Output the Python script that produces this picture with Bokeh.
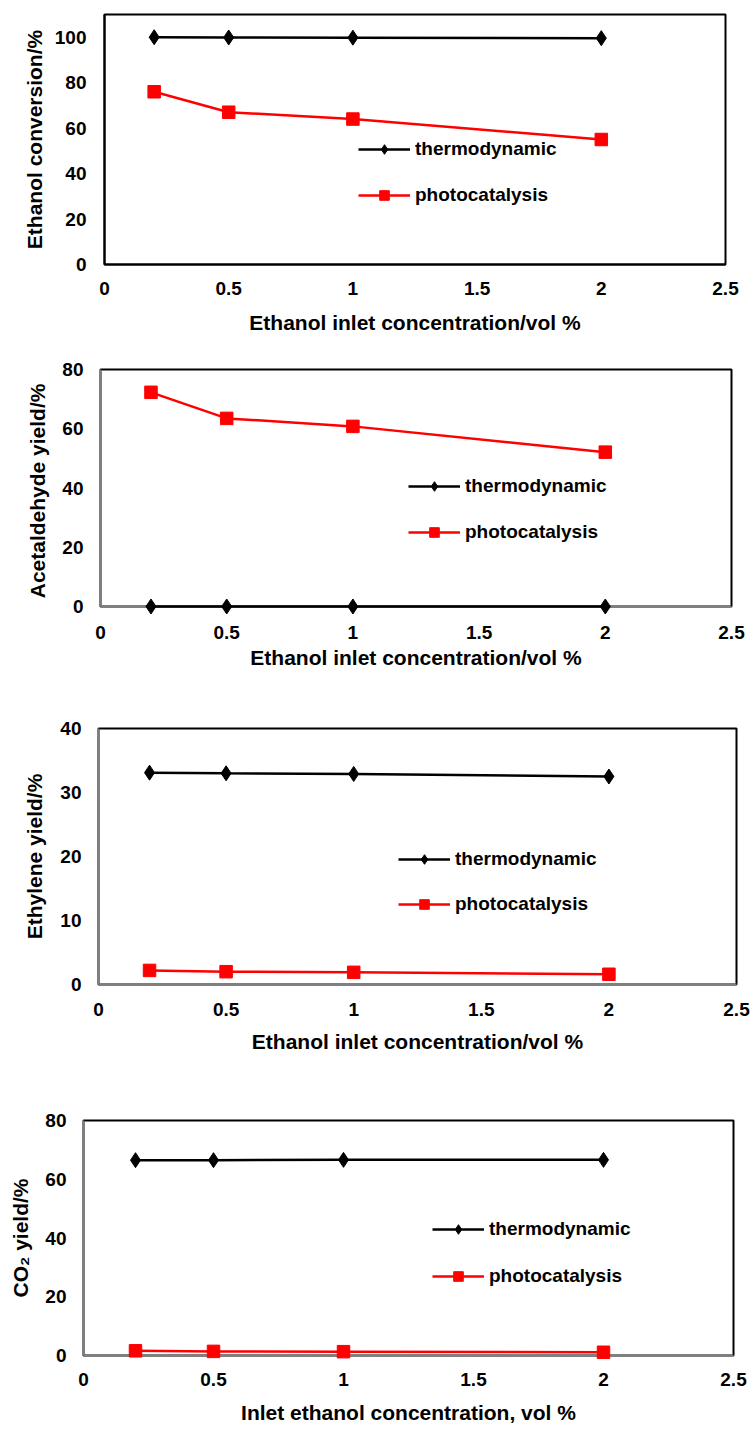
from bokeh.plotting import figure
from bokeh.models import Range1d, FixedTicker, NumeralTickFormatter, Legend, LegendItem
from bokeh.embed import file_html
from bokeh.resources import INLINE

# ---------------- data ----------------
x_conc = [0.2, 0.5, 1.0, 2.0]
x_ticks = [0, 0.5, 1, 1.5, 2, 2.5]

conv_thermo = [100.0, 99.9, 99.8, 99.6]
conv_photo = [76.0, 67.0, 64.0, 55.0]

acet_thermo = [0.0, 0.0, 0.0, 0.0]
acet_photo = [72.3, 63.5, 60.8, 52.1]

ethy_thermo = [33.1, 33.0, 32.9, 32.5]
ethy_photo = [2.2, 2.0, 1.9, 1.6]

co2_thermo = [66.5, 66.5, 66.6, 66.6]
co2_photo = [1.6, 1.4, 1.3, 1.1]

series_names = ["thermodynamic", "photocatalysis"]

FONT = "Liberation Sans"
W = 754


def panel(thermo, photo, ymax, yticks, ylabel, xlabel, geom):
    (h, top, frame_h, left, frame_w, axis_col,
     xls, xas, yls, yas, lg_x, lg_y, lg_sp) = geom
    bottom = h - top - frame_h
    right = W - left - frame_w
    p = figure(width=W, height=h, output_backend="svg", toolbar_location=None,
               x_range=Range1d(0, 2.5), y_range=Range1d(0, ymax),
               min_border_left=left, min_border_right=right,
               min_border_top=top, min_border_bottom=bottom)
    p.grid.visible = False
    p.outline_line_color = "black"
    p.outline_line_width = 2
    p.background_fill_color = "white"
    p.border_fill_color = "white"

    p.xaxis.ticker = FixedTicker(ticks=x_ticks)
    p.xaxis.formatter = NumeralTickFormatter(format="0.[0]")
    p.yaxis.ticker = FixedTicker(ticks=yticks)
    p.xaxis.axis_label = xlabel
    p.yaxis.axis_label = ylabel
    for ax in (p.xaxis, p.yaxis):
        ax.axis_line_color = axis_col
        ax.axis_line_width = 2
        ax.major_tick_line_color = None
        ax.minor_tick_line_color = None
        ax.major_tick_out = 0
        ax.major_tick_in = 0
        ax.major_label_text_font = FONT
        ax.major_label_text_font_style = "bold"
        ax.major_label_text_font_size = "19px"
        ax.major_label_text_color = "black"
        ax.axis_label_text_font = FONT
        ax.axis_label_text_font_style = "bold"
        ax.axis_label_text_font_size = "21px"
        ax.axis_label_text_color = "black"
    p.xaxis.major_label_standoff = xls
    p.xaxis.axis_label_standoff = xas
    p.yaxis.major_label_standoff = yls
    p.yaxis.axis_label_standoff = yas

    l1 = p.line(x_conc, thermo, line_color="black", line_width=2.5, level="overlay")
    m1 = p.scatter(x_conc, thermo, marker="diamond", size=15,
                   fill_color="black", line_color="black", level="overlay")
    l2 = p.line(x_conc, photo, line_color="#FF0000", line_width=2.5, level="overlay")
    m2 = p.scatter(x_conc, photo, marker="square", size=12.5,
                   fill_color="#FF0000", line_color="#FF0000", level="overlay")

    legend = Legend(items=[LegendItem(label=series_names[0], renderers=[l1, m1]),
                           LegendItem(label=series_names[1], renderers=[l2, m2])],
                    location=(lg_x, lg_y), padding=0, margin=0, spacing=lg_sp,
                    glyph_width=52, glyph_height=24, label_height=24,
                    label_standoff=5, border_line_alpha=0, background_fill_alpha=0,
                    label_text_font=FONT, label_text_font_style="bold",
                    label_text_font_size="19px", label_text_color="black")
    p.add_layout(legend, "center")
    return p


# geom: (height, top, frame_h, left, frame_w, axis colour,
#        x label standoff, x title standoff, y label standoff, y title standoff,
#        legend x, legend y, legend spacing)
p1 = panel(conv_thermo, conv_photo, 110, [0, 20, 40, 60, 80, 100],
           "Ethanol conversion/%", "Ethanol inlet concentration/vol %",
           (345, 14, 250, 104, 621, "black", 17, 13, 18, 6, 254, 57, 22))
p2 = panel(acet_thermo, acet_photo, 80, [0, 20, 40, 60, 80],
           "Acetaldehyde  yield/%", "Ethanol inlet concentration/vol %",
           (345, 24, 237, 100, 631, "#808080", 19, 4, 17, 10, 308, 62, 22))
p3 = panel(ethy_thermo, ethy_photo, 40, [0, 10, 20, 30, 40],
           "Ethylene yield/%", "Ethanol inlet concentration/vol %",
           (370, 38, 256, 98, 638, "#808080", 18, 11, 17, 11, 300, 68, 21))
p4 = panel(co2_thermo, co2_photo, 80, [0, 20, 40, 60, 80],
           "CO\u2082 yield/%", "Inlet ethanol concentration, vol %",
           (369, 60, 235, 83, 650, "#808080", 17, 12, 17, 10, 349, 67, 23))

open("out.html", "w").write(file_html([p1, p2, p3, p4], INLINE))
